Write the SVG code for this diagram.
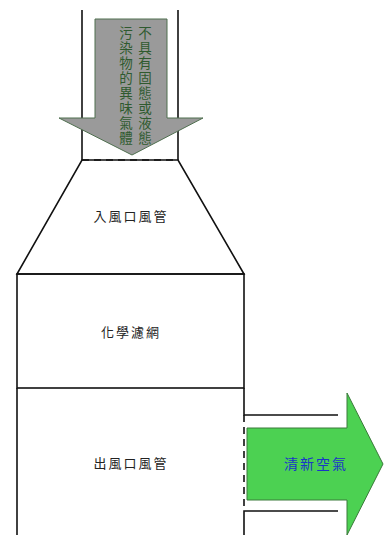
<svg xmlns="http://www.w3.org/2000/svg" width="391" height="535" viewBox="0 0 391 535">
<style>
.ln{stroke:#111;stroke-width:1.6;fill:none}
.dash{stroke:#111;stroke-width:1.6;fill:none;stroke-dasharray:7,5}
.lbl{font-family:"Noto Sans CJK TC","Noto Sans CJK SC",sans-serif;font-size:13px;fill:#222;text-anchor:middle;letter-spacing:2px}
.vt{font-family:"Noto Sans CJK TC","Noto Sans CJK SC",sans-serif;font-size:13.5px;fill:#2f5a2f;text-anchor:middle}
</style>
<rect width="391" height="535" fill="#fff"/>
<g id="connectors">
<line class="ln" x1="82" y1="10" x2="82" y2="160"/>
<line class="ln" x1="178" y1="10" x2="178" y2="160"/>
<line class="dash" x1="82" y1="160" x2="178" y2="160"/>
</g>
<g id="inlet-duct">
<polygon class="ln" points="82,160 178,160 244,274 17,274"/>
<text class="lbl" x="131" y="221">入風口風管</text>
</g>
<g id="chemical-filter">
<rect class="ln" x="17" y="274" width="227" height="114"/>
<text class="lbl" x="131" y="337">化學濾網</text>
</g>
<g id="outlet-duct">
<polyline class="ln" points="17,388 17,535"/>
<polyline class="ln" points="244,388 244,415 338,415"/>
<line class="dash" x1="244" y1="415" x2="244" y2="511"/>
<polyline class="ln" points="338,511 244,511 244,535"/>
<text class="lbl" x="131" y="468">出風口風管</text>
</g>
<g id="polluted-air-arrow">
<polygon points="95,19 167,19 167,118 203,118 132,155 59,118 95,118" fill="#9a9a9a" stroke="#4f6f4f" stroke-width="1"/>
<text class="vt" x="145 145 145 145 145 145 145 145" y="38 53 68 83 98 113 128 143">不具有固態或液態</text>
<text class="vt" x="126 126 126 126 126 126 126 126" y="38 53 68 83 98 113 128 143">污染物的異味氣體</text>
</g>
<g id="clean-air-arrow">
<polygon points="247,428 347,428 347,393 383,464 347,535 347,500 247,500" fill="#4cd152" stroke="#3a7a3a" stroke-width="1"/>
<text x="316" y="469" font-family="'Noto Sans CJK TC','Noto Sans CJK SC',sans-serif" font-size="14" fill="#1a35c8" text-anchor="middle" letter-spacing="2">清新空氣</text>
</g>
</svg>
